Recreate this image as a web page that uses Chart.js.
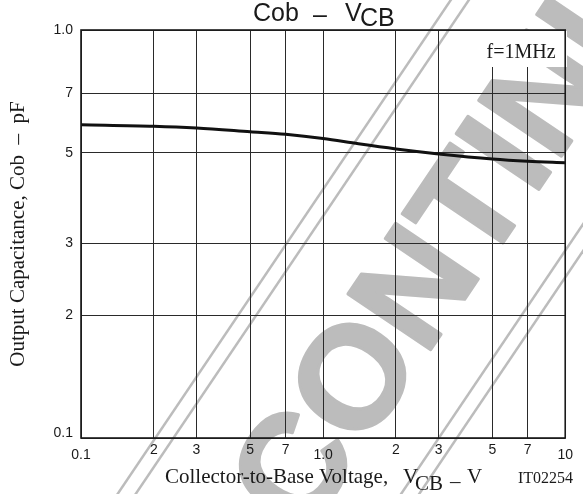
<!DOCTYPE html>
<html>
<head>
<meta charset="utf-8">
<script src="https://cdn.jsdelivr.net/npm/chart.js@4.4.1/dist/chart.umd.min.js"></script>
<style>
html,body{margin:0;padding:0;background:#fff;}
#wrap{width:583px;height:494px;position:relative;}
</style>
</head>
<body>
<div id="wrap"><canvas id="c"></canvas></div>
<script>
// ---- data ----
const voltage = [0.1, 0.2, 0.3, 0.5, 0.7, 1.0, 1.4, 2, 3, 5, 7, 10];
const capacitance = [5.86, 5.81, 5.75, 5.63, 5.55, 5.42, 5.26, 5.11, 4.97, 4.83, 4.77, 4.73];
const xTickValues = [0.1, 0.2, 0.3, 0.5, 0.7, 1, 2, 3, 5, 7, 10];
const xTickLabels = ['0.1', '2', '3', '5', '7', '1.0', '2', '3', '5', '7', '10'];
const xLoweredLabels = ['0.1', '1.0', '10'];
const yTickValues = [1, 2, 3, 5, 7, 10];
const yTickLabels = ['0.1', '2', '3', '5', '7', '1.0'];
const yRaisedLabels = ['0.1'];
const yTitle = 'Output Capacitance, Cob  \u2013  pF';
const conditionLabel = 'f=1MHz';
const figureCode = 'IT02254';
const watermarkText = 'DISCONTINUED';

const SANS = '"Liberation Sans", Arial, sans-serif';
const SERIF = '"Liberation Serif", "Times New Roman", serif';
const INK = '#1a1a1a';
const WM = 'rgb(188,188,188)';

const decor = {
  id: 'decor',
  beforeDraw(chart) {
    const ctx = chart.ctx;
    ctx.save();
    ctx.translate(434, 252);
    ctx.rotate(-56 * Math.PI / 180);
    ctx.fillStyle = WM;
    ctx.strokeStyle = WM;
    ctx.font = 'bold 145px ' + SANS;
    ctx.textAlign = 'center';
    ctx.textBaseline = 'alphabetic';
    ctx.lineWidth = 3;
    ctx.lineJoin = 'round';
    ctx.fillText(watermarkText, 0, 52);
    ctx.strokeText(watermarkText, 0, 52);
    ctx.lineWidth = 2.5;
    [-127, -112, 108, 123].forEach(o => {
      ctx.beginPath();
      ctx.moveTo(-1000, o);
      ctx.lineTo(1000, o);
      ctx.stroke();
    });
    ctx.restore();
  },
  afterDraw(chart) {
    const ctx = chart.ctx;
    const a = chart.chartArea;
    ctx.save();
    // condition label box
    ctx.fillStyle = '#fff';
    ctx.fillRect(481, a.top + 1, 86, 36);
    ctx.fillStyle = INK;
    ctx.font = '20px ' + SERIF;
    ctx.textAlign = 'center';
    ctx.textBaseline = 'alphabetic';
    ctx.fillText(conditionLabel, 521, 58);
    // frame
    ctx.strokeStyle = INK;
    ctx.lineWidth = 1.6;
    ctx.strokeRect(a.left, a.top, a.right - a.left, a.bottom - a.top);
    // chart title
    ctx.textAlign = 'left';
    ctx.font = '25px ' + SANS;
    ctx.fillText('Cob', 253, 21);
    ctx.fillText('\u2013', 313, 23);
    ctx.fillText('V', 345, 21);
    ctx.fillText('CB', 360, 26);
    // x axis title
    ctx.font = '21px ' + SERIF;
    ctx.fillText('Collector-to-Base Voltage,', 165, 483);
    ctx.fillText('V', 403, 483);
    ctx.fillText('CB', 415, 490);
    ctx.fillText('\u2013', 450, 488);
    ctx.fillText('V', 467, 483);
    ctx.font = '16px ' + SERIF;
    ctx.fillText(figureCode, 518, 483);
    ctx.restore();
  }
};

new Chart(document.getElementById('c'), {
  type: 'line',
  data: {
    datasets: [{
      data: voltage.map((v, i) => ({x: v, y: capacitance[i]})),
      borderColor: '#111',
      borderWidth: 3,
      pointRadius: 0,
      fill: false,
      cubicInterpolationMode: 'monotone'
    }]
  },
  options: {
    responsive: true,
    maintainAspectRatio: false,
    animation: false,
    events: [],
    layout: {padding: {top: 30, right: 10, bottom: 0, left: 0}},
    plugins: {legend: {display: false}, tooltip: {enabled: false}, title: {display: false}},
    scales: {
      x: {
        type: 'logarithmic',
        min: 0.1,
        max: 10,
        afterBuildTicks: s => { s.ticks = xTickValues.map(v => ({value: v})); },
        afterFit: s => { s.height = 56; },
        grid: {color: '#2a2a2a', lineWidth: 1, drawTicks: false},
        border: {display: false},
        ticks: {
          autoSkip: false,
          maxRotation: 0,
          minRotation: 0,
          padding: 10,
          color: INK,
          font: {family: SANS, size: 14, lineHeight: '5px'},
          callback: (v, i) => {
            const l = xTickLabels[i];
            return xLoweredLabels.includes(l) ? ['', l] : l;
          }
        }
      },
      y: {
        type: 'logarithmic',
        min: 1,
        max: 10,
        afterBuildTicks: s => { s.ticks = yTickValues.map(v => ({value: v})); },
        afterFit: s => { s.width = 81; },
        grid: {color: '#2a2a2a', lineWidth: 1, drawTicks: false},
        border: {display: false},
        ticks: {
          autoSkip: false,
          padding: 8,
          color: INK,
          font: {family: SANS, size: 14, lineHeight: '10px'},
          callback: (v, i) => {
            const l = yTickLabels[i];
            return yRaisedLabels.includes(l) ? [l, ''] : l;
          }
        },
        title: {
          display: true,
          text: yTitle,
          color: INK,
          font: {family: SERIF, size: 21, lineHeight: 1.2},
          padding: {top: 6, bottom: 0}
        }
      }
    }
  },
  plugins: [decor]
});
</script>
</body>
</html>
